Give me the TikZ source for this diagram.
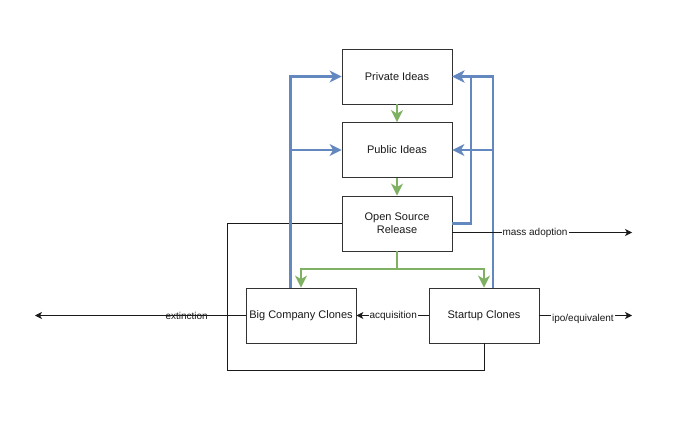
\documentclass[tikz,border=0pt]{standalone}
\usepackage{fontspec}
\setmainfont{Liberation Sans}
\usetikzlibrary{arrows.meta,positioning,calc}
\definecolor{io-ink}{HTML}{1A1A1A}
\definecolor{io-edge}{HTML}{333333}
\definecolor{io-blue}{HTML}{6388C0}
\definecolor{io-green}{HTML}{7FB162}

\begin{document}
\begin{tikzpicture}[
  x=1pt,y=-1pt,font=\fontsize{11}{13}\selectfont,
  box/.style={draw=io-edge,line width=0.8pt,fill=white,
              minimum width=110pt,minimum height=55pt,align=center,inner sep=2pt,text=io-ink},
  gr/.style={-{Stealth[length=12pt,width=12pt,inset=3.5pt]},io-green,line width=2.2pt},
  bl/.style={-{Stealth[length=12pt,width=12pt,inset=3.5pt]},io-blue,line width=2.2pt},
  ln/.style={io-ink,line width=0.8pt},
  ar/.style={ln,-{Stealth[length=7pt,width=7pt,inset=2pt]}},
  lab/.style={font=\fontsize{10}{12}\selectfont,fill=white,inner sep=1pt,text=io-ink}
]
\useasboundingbox (0,0) rectangle (680,425);

\node[box] (priv)  at (397,76.5)  {Private Ideas};
\node[box] (pub)   at (397,150)   {Public Ideas};
\node[box] (osr)   at (397,223.5) {Open Source\\Release};
\node[box] (big)   at (301,315.5) {Big Company Clones};
\node[box] (start) at (484,315.5) {Startup Clones};

\coordinate (bigtop)  at (290.5,288);
\coordinate (sttop)   at (493,288);
\coordinate (split)   at (397,269);
\coordinate (massend) at (632,232.5);
\coordinate (ipoend)  at (632,315.5);
\coordinate (extend)  at (35,315.5);

% loop back from startups to the release
\draw[ln] (osr.west) -- ++(-114.5,0) |- ($(start.south)+(0,27)$) -- (start.south);

% feedback into ideas
\draw[bl] (bigtop) |- (priv.west);
\draw[bl] (bigtop) |- (pub.west);
\draw[bl] (sttop)  |- (priv.east);
\draw[bl] (sttop)  |- (pub.east);
\draw[bl] (osr.east) -- ++(18.5,0) |- (priv.east);

% main flow
\draw[gr] (priv) -- (pub);
\draw[gr] (pub)  -- (osr);
\draw[gr] (osr.south) -- (split) -| (big.north);
\draw[gr] (split) -| (start.north);

% exits
\draw[ar] ($(osr.east)+(0,9)$) -- node[lab,pos=0.46] {mass adoption} (massend);
\draw[ar] (start.east) -- node[lab,pos=0.47,yshift=-3pt] {ipo/equivalent} (ipoend);
\draw[ar] (big.west) -- node[lab,fill=none,pos=0.28] {extinction} (extend);
\draw[ar] (start.west) -- node[lab,pos=0.49] {acquisition} (big.east);

\end{tikzpicture}
\end{document}
